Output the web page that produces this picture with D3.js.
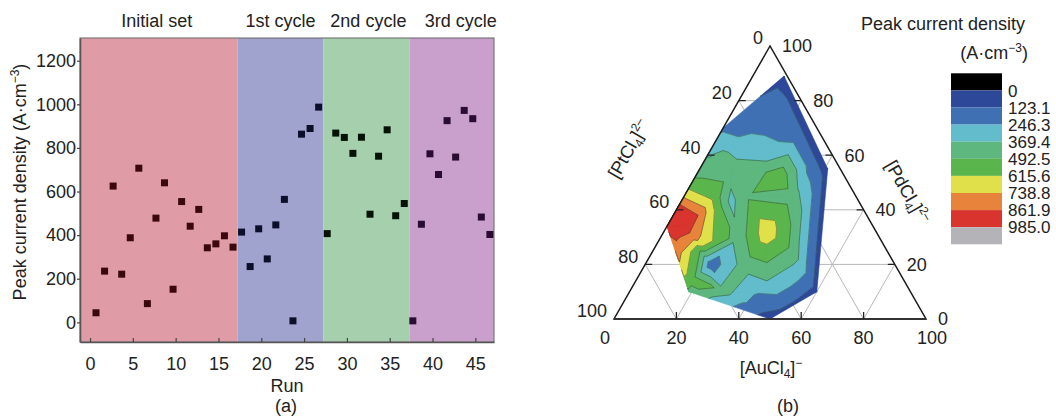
<!DOCTYPE html>
<html>
<head>
<meta charset="utf-8">
<script src="https://cdn.jsdelivr.net/npm/d3@7"></script>
<style>
body { margin: 0; background: #fff; }
svg { display: block; font-family: "Liberation Sans", Arial, sans-serif; }
</style>
</head>
<body>
<svg id="chart" width="1056" height="417"></svg>
<script>
'use strict';

// ---- (a) peak current density per run
var runs = [1, 2, 3, 4, 5, 6, 7, 8, 9, 10, 11, 12, 13, 14, 15, 16, 17,
  18, 19, 20, 21, 22, 23, 24, 25, 26, 27,
  28, 29, 30, 31, 32, 33, 34, 35, 36, 37,
  38, 39, 40, 41, 42, 43, 44, 45, 46, 47];
var peakDensity = [44, 235, 625, 221, 388, 707, 86, 478, 640, 152, 554, 441, 518, 342, 360, 397, 345,
  414, 256, 429, 291, 447, 564, 7, 863, 889, 987,
  407, 868, 848, 775, 849, 496, 762, 883, 489, 545,
  7, 450, 773, 678, 925, 758, 972, 934, 483, 403];
var phaseNames = ['Initial set', '1st cycle', '2nd cycle', '3rd cycle'];
var phaseEnds = [17.25, 27.25, 37.3, 47.18];
var phaseColors = ['#e09ca6', '#a0a3cd', '#a6cfae', '#c9a0cb'];
var markColors = ['#3a080e', '#0b0f2a', '#071207', '#2a0b32'];
var runTicks = [0, 5, 10, 15, 20, 25, 30, 35, 40, 45];
var densityTicks = [0, 200, 400, 600, 800, 1000, 1200];

// ---- (b) ternary composition map, measured points (AuCl4 %, PdCl4 %, value)
var sampleAu = [10, 0, 0, 0, 0, 0, 0, 19, 50, 60, 41,
  10, 20, 10, 25, 35, 5, 10, 18, 27, 20, 35, 10, 12, 16,
  8, 6, 5, 10, 14, 8, 13, 18, 15, 21, 25, 33, 40, 45, 42, 32,
  50, 25, 30, 40, 42, 52];
var samplePd = [89, 70, 60, 50, 45, 40, 34, 10, 0, 10, 55,
  80, 70, 65, 65, 57, 60, 55, 55, 52, 45, 45, 45, 40, 43,
  38, 34, 30, 30, 28, 24, 18, 15, 25, 20, 30, 32, 35, 25, 14, 20,
  15, 12, 10, 10, 5, 5];
var sampleValue = [60, 220, 360, 520, 720, 960, 900, 470, 60, 70, 60,
  190, 230, 260, 240, 170, 400, 430, 420, 590, 470, 430, 560, 620, 330,
  860, 960, 880, 800, 700, 800, 680, 520, 500, 170, 420, 700, 470, 450, 370, 430,
  290, 520, 420, 260, 200, 150];
var legendLevels = [0, 123.1, 246.3, 369.4, 492.5, 615.6, 738.8, 861.9, 985.0];
var legendColors = ['#000000', '#2d4899', '#3f70b4', '#62bccb', '#5db77f', '#5ab64c',
  '#e0e04a', '#e8833b', '#d9342e', '#b4b4b8'];
var ternTicks = [0, 20, 40, 60, 80, 100];

var svg = d3.select('#chart');

// ================= panel (a)
var x = d3.scaleLinear([-1.17, 47.18], [80, 494]);
var y = d3.scaleLinear([-90, 1304], [342, 38]);
var pointShift = -0.3;
var pa = svg.append('g');

var starts = [x.domain()[0]].concat(phaseEnds.slice(0, -1));
pa.selectAll('rect.phase').data(phaseNames).join('rect')
  .attr('class', 'phase')
  .attr('x', function(d, i) { return x(starts[i]); })
  .attr('width', function(d, i) { return x(phaseEnds[i]) - x(starts[i]); })
  .attr('y', y.range()[1])
  .attr('height', y.range()[0] - y.range()[1])
  .attr('fill', function(d, i) { return phaseColors[i]; });

var titleNudge = [-2, 0, 2, 9];
pa.selectAll('text.phase').data(phaseNames).join('text')
  .attr('class', 'phase')
  .attr('x', function(d, i) { return (x(starts[i]) + x(phaseEnds[i])) / 2 + titleNudge[i]; })
  .attr('y', 27)
  .attr('text-anchor', 'middle')
  .attr('font-size', 18)
  .attr('fill', '#222')
  .text(function(d) { return d; });

pa.append('rect')
  .attr('x', x.range()[0]).attr('y', y.range()[1])
  .attr('width', x.range()[1] - x.range()[0]).attr('height', y.range()[0] - y.range()[1])
  .attr('fill', 'none').attr('stroke', '#666').attr('stroke-width', 1);

pa.selectAll('rect.mark').data(runs).join('rect')
  .attr('class', 'mark')
  .attr('x', function(d) { return x(d + pointShift) - 3.5; })
  .attr('y', function(d, i) { return y(peakDensity[i]) - 3.5; })
  .attr('width', 7).attr('height', 7)
  .attr('fill', function(d) { return markColors[d3.bisect(phaseEnds, d + pointShift)]; });

var xAxis = pa.append('g')
  .attr('transform', 'translate(0,' + y.range()[0] + ')')
  .call(d3.axisBottom(x).tickValues(runTicks).tickSize(-4).tickSizeOuter(0).tickPadding(15));
var yAxis = pa.append('g')
  .attr('transform', 'translate(' + x.range()[0] + ',0)')
  .call(d3.axisLeft(y).tickValues(densityTicks).tickFormat(d3.format('d'))
    .tickSize(3).tickSizeOuter(0).tickPadding(1));
[xAxis, yAxis].forEach(function(g) {
  g.attr('font-size', 18).attr('font-family', null).attr('color', '#222');
  g.select('.domain').attr('stroke', '#555').attr('stroke-width', 1.6);
  g.selectAll('.tick line').attr('stroke', '#444').attr('stroke-width', 1.2);
});

var yTitle = pa.append('text')
  .attr('transform', 'translate(26,182) rotate(-90)')
  .attr('text-anchor', 'middle').attr('font-size', 18).attr('fill', '#222');
yTitle.append('tspan').text('Peak current density (A\u00b7cm');
yTitle.append('tspan').attr('font-size', 12).attr('dy', -7).text('\u22123');
yTitle.append('tspan').attr('dy', 7).text(')');

pa.append('text').attr('x', 287).attr('y', 392).attr('text-anchor', 'middle')
  .attr('font-size', 18).attr('fill', '#222').text('Run');
pa.append('text').attr('x', 286).attr('y', 412).attr('text-anchor', 'middle')
  .attr('font-size', 18).attr('fill', '#222').text('(a)');

// ================= panel (b)
var tx = d3.scaleLinear([0, 100], [614, 926]);
var ty = d3.scaleLinear([0, 100], [319, 46]);
function tern(au, pd) { return [tx(au + pd / 2), ty(pd)]; }

var pb = svg.append('g');

// grid
var inner = ternTicks.slice(1, -1);
var grid = d3.path();
inner.forEach(function(k) {
  var a, b;
  a = tern(0, k); b = tern(100 - k, k); grid.moveTo(a[0], a[1]); grid.lineTo(b[0], b[1]);
  a = tern(k, 0); b = tern(k, 100 - k); grid.moveTo(a[0], a[1]); grid.lineTo(b[0], b[1]);
  a = tern(100 - k, 0); b = tern(0, 100 - k); grid.moveTo(a[0], a[1]); grid.lineTo(b[0], b[1]);
});
pb.append('path').attr('d', grid.toString()).attr('fill', 'none')
  .attr('stroke', '#b8b8b8').attr('stroke-width', 1);

// filled contour bands from a Delaunay mesh of the samples
var pts = sampleAu.map(function(au, i) {
  var p = tern(au, samplePd[i]);
  return { x: p[0], y: p[1], v: sampleValue[i] };
});
var delaunay = d3.Delaunay.from(pts, function(d) { return d.x; }, function(d) { return d.y; });
var tris = d3.range(0, delaunay.triangles.length, 3).map(function(k) {
  return [pts[delaunay.triangles[k]], pts[delaunay.triangles[k + 1]], pts[delaunay.triangles[k + 2]]];
});

function clipAt(poly, t, keepAbove) {
  var out = [];
  for (var i = 0; i < poly.length; i++) {
    var a = poly[i], b = poly[(i + 1) % poly.length];
    var ina = keepAbove ? a.v >= t : a.v < t;
    var inb = keepAbove ? b.v >= t : b.v < t;
    if (ina) out.push(a);
    if (ina !== inb) {
      var k = (t - a.v) / (b.v - a.v);
      out.push({ x: a.x + k * (b.x - a.x), y: a.y + k * (b.y - a.y), v: t });
    }
  }
  return out;
}

var bandLo = [-Infinity].concat(legendLevels);
var bandHi = legendLevels.concat([Infinity]);
var bandPaths = legendColors.map(function() { return d3.path(); });
var isoPath = d3.path();
tris.forEach(function(tri) {
  bandLo.forEach(function(lo, bi) {
    var poly = clipAt(tri, lo, true);
    if (poly.length > 2) poly = clipAt(poly, bandHi[bi], false);
    if (poly.length < 3) return;
    var p = bandPaths[bi];
    p.moveTo(poly[0].x, poly[0].y);
    poly.slice(1).forEach(function(q) { p.lineTo(q.x, q.y); });
    p.closePath();
  });
  legendLevels.forEach(function(t) {
    var cut = [];
    for (var i = 0; i < 3; i++) {
      var a = tri[i], b = tri[(i + 1) % 3];
      if ((a.v >= t) !== (b.v >= t)) {
        var k = (t - a.v) / (b.v - a.v);
        cut.push([a.x + k * (b.x - a.x), a.y + k * (b.y - a.y)]);
      }
    }
    if (cut.length === 2) { isoPath.moveTo(cut[0][0], cut[0][1]); isoPath.lineTo(cut[1][0], cut[1][1]); }
  });
});
pb.selectAll('path.band').data(bandPaths).join('path')
  .attr('class', 'band')
  .attr('d', function(d) { return d.toString(); })
  .attr('fill', function(d, i) { return legendColors[i]; })
  .attr('stroke', function(d, i) { return legendColors[i]; })
  .attr('stroke-width', 0.6).attr('stroke-linejoin', 'round');
pb.append('path').attr('d', isoPath.toString()).attr('fill', 'none')
  .attr('stroke', 'rgba(30,55,40,0.55)').attr('stroke-width', 0.8);

// outline
var corners = [tern(0, 100), tern(0, 0), tern(100, 0)];
pb.append('path').attr('d', 'M' + corners.join('L') + 'Z')
  .attr('fill', 'none').attr('stroke', '#1a1a1a').attr('stroke-width', 1.5).attr('stroke-linejoin', 'miter');
pb.append('line').attr('x1', corners[1][0]).attr('y1', corners[1][1])
  .attr('x2', corners[2][0]).attr('y2', corners[2][1])
  .attr('stroke', '#333').attr('stroke-width', 2.2);

// ticks
var tk = d3.path();
inner.forEach(function(k) {
  var p = tern(0, 100 - k); tk.moveTo(p[0], p[1]); tk.lineTo(p[0] + 7, p[1]);
  p = tern(100 - k, k); tk.moveTo(p[0], p[1]); tk.lineTo(p[0] - 7, p[1]);
  p = tern(k, 0); tk.moveTo(p[0], p[1]); tk.lineTo(p[0], p[1] - 7);
});
pb.append('path').attr('d', tk.toString()).attr('stroke', '#222').attr('stroke-width', 1.3);

function tickText(anchor, pos, dx, dy) {
  pb.append('g').selectAll('text').data(ternTicks).join('text')
    .attr('x', function(d) { return pos(d)[0] + (typeof dx === 'function' ? dx(d) : dx); })
    .attr('y', function(d) { return pos(d)[1] + dy; })
    .attr('dy', '0.35em').attr('text-anchor', anchor)
    .attr('font-size', 18).attr('fill', '#222')
    .text(function(d) { return d; });
}
tickText('end', function(d) { return tern(0, 100 - d); }, -7, -8);
tickText('start', function(d) { return tern(100 - d, d); }, 12, 0);
tickText('middle', function(d) { return tern(d, 0); },
  function(d) { return d === 0 ? -9 : d === 100 ? 6 : 0; }, 19);

function chemLabel(g, metal, sup) {
  g.append('tspan').text('[' + metal + 'Cl');
  g.append('tspan').attr('font-size', 12).attr('dy', 4).text('4');
  g.append('tspan').attr('dy', -4).text(']');
  g.append('tspan').attr('font-size', 12).attr('dy', -7).text(sup);
}
var labAu = pb.append('text').attr('x', 771).attr('y', 374).attr('text-anchor', 'middle')
  .attr('font-size', 18).attr('fill', '#222');
chemLabel(labAu, 'Au', '\u2212');
var labPt = pb.append('text').attr('transform', 'translate(634,152) rotate(-60)')
  .attr('text-anchor', 'middle').attr('font-size', 18).attr('fill', '#222');
chemLabel(labPt, 'Pt', '2\u2013');
var labPd = pb.append('text').attr('transform', 'translate(902,195) rotate(60)')
  .attr('text-anchor', 'middle').attr('font-size', 18).attr('fill', '#222');
chemLabel(labPd, 'Pd', '2\u2013');

pb.append('text').attr('x', 788).attr('y', 412).attr('text-anchor', 'middle')
  .attr('font-size', 18).attr('fill', '#222').text('(b)');

// legend
var lg = svg.append('g');
lg.append('text').attr('x', 943).attr('y', 30).attr('text-anchor', 'middle')
  .attr('font-size', 18).attr('fill', '#222').text('Peak current density');
var unit = lg.append('text').attr('x', 1028).attr('y', 59).attr('text-anchor', 'end')
  .attr('font-size', 18).attr('fill', '#222');
unit.append('tspan').text('(A\u00b7cm');
unit.append('tspan').attr('font-size', 12).attr('dy', -7).text('\u22123');
unit.append('tspan').attr('dy', 7).text(')');

var ly = d3.scaleLinear([0, legendColors.length], [73.3, 244.3]);
lg.selectAll('rect').data(legendColors).join('rect')
  .attr('x', 951).attr('width', 51)
  .attr('y', function(d, i) { return ly(i); })
  .attr('height', ly(1) - ly(0))
  .attr('fill', function(d) { return d; });
lg.selectAll('text.lev').data(legendLevels).join('text')
  .attr('class', 'lev')
  .attr('x', 1008)
  .attr('y', function(d, i) { return ly(i + 1); })
  .attr('dy', '0.36em').attr('font-size', 17).attr('fill', '#222')
  .text(function(d) { return d === 0 ? '0' : d.toFixed(1); });
</script>
</body>
</html>
